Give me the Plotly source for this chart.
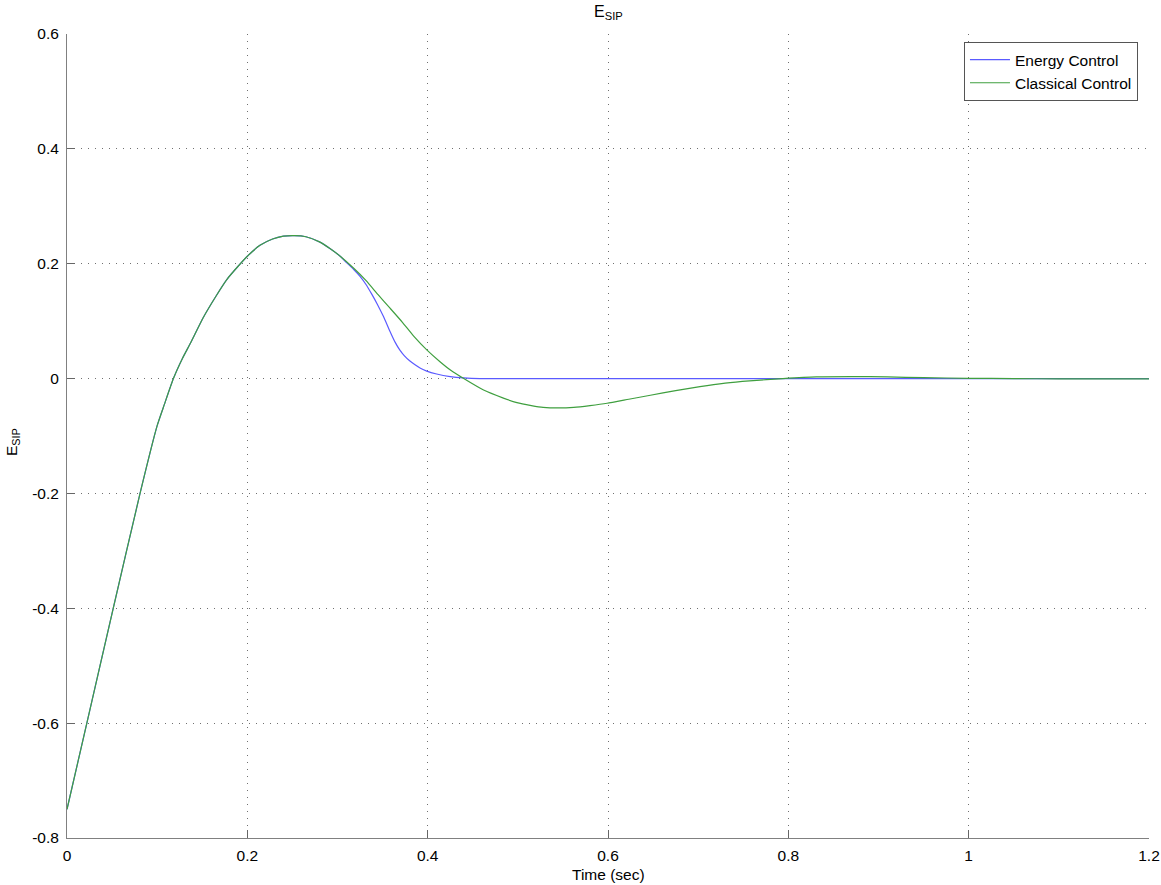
import plotly.graph_objects as go

# ---- data ----
t_classical = [0.000, 0.022, 0.051, 0.081, 0.100, 0.108, 0.118, 0.128, 0.137, 0.151,
               0.165, 0.177, 0.190, 0.200, 0.214, 0.228, 0.240, 0.252, 0.265, 0.280,
               0.292, 0.303, 0.318, 0.332, 0.345, 0.358, 0.372, 0.385, 0.399, 0.414,
               0.426, 0.440, 0.462, 0.484, 0.499, 0.515, 0.528, 0.545, 0.562, 0.580,
               0.599, 0.623, 0.647, 0.675, 0.702, 0.730, 0.757, 0.794, 0.831, 0.870,
               0.910, 0.950, 1.000, 1.050, 1.100, 1.200]
e_classical = [-0.750, -0.600, -0.402, -0.200, -0.082, -0.045, 0.000, 0.035, 0.062, 0.106,
               0.143, 0.172, 0.196, 0.213, 0.232, 0.243, 0.248, 0.249, 0.247, 0.238,
               0.226, 0.213, 0.192, 0.170, 0.146, 0.123, 0.098, 0.073, 0.050, 0.029,
               0.014, 0.000, -0.020, -0.034, -0.042, -0.047, -0.050, -0.051, -0.050, -0.047,
               -0.043, -0.036, -0.029, -0.021, -0.014, -0.008, -0.004, 0.000, 0.003, 0.0035,
               0.003, 0.0015, 0.0005, 0.000, -0.0005, -0.0005]

t_energy = [0.000, 0.022, 0.051, 0.081, 0.100, 0.108, 0.118, 0.128, 0.137, 0.151,
            0.165, 0.177, 0.190, 0.200, 0.214, 0.228, 0.240, 0.252, 0.265, 0.280,
            0.292, 0.303, 0.310, 0.318, 0.325, 0.332, 0.338, 0.344, 0.351, 0.358,
            0.364, 0.369, 0.374, 0.380, 0.386, 0.392, 0.399, 0.410, 0.425, 0.440,
            0.458, 0.600, 0.800, 1.000, 1.200]
e_energy = [-0.750, -0.600, -0.402, -0.200, -0.082, -0.045, 0.000, 0.035, 0.062, 0.106,
            0.143, 0.172, 0.196, 0.213, 0.232, 0.243, 0.248, 0.249, 0.247, 0.238,
            0.226, 0.213, 0.202, 0.190, 0.178, 0.163, 0.147, 0.130, 0.108, 0.083,
            0.063, 0.050, 0.040, 0.031, 0.024, 0.018, 0.013, 0.008, 0.0035, 0.0012,
            0.000, 0.000, 0.000, 0.000, 0.000]

x_ticks = [0, 0.2, 0.4, 0.6, 0.8, 1.0, 1.2]
x_tick_labels = ["0", "0.2", "0.4", "0.6", "0.8", "1", "1.2"]
y_ticks = [-0.8, -0.6, -0.4, -0.2, 0, 0.2, 0.4, 0.6]
y_tick_labels = ["-0.8", "-0.6", "-0.4", "-0.2", "0", "0.2", "0.4", "0.6"]

FONT = "Liberation Sans, Arial, sans-serif"
FS = 15.5

fig = go.Figure()
fig.add_trace(go.Scatter(x=t_energy, y=e_energy, mode="lines", name="Energy Control",
                         line=dict(color="#5a5aff", width=1.2, shape="spline", smoothing=0.5)))
fig.add_trace(go.Scatter(x=t_classical, y=e_classical, mode="lines", name="Classical Control",
                         line=dict(color="#3f9f3f", width=1.2, shape="spline", smoothing=0.5)))

axis_common = dict(
    showgrid=True, gridcolor="#707070", griddash="1px,6px", gridwidth=1,
    showline=True, linecolor="#808080", linewidth=1, mirror=False,
    ticks="inside", ticklen=8, tickcolor="#666666", tickwidth=1,
    zeroline=False, automargin=False,
    tickfont=dict(family=FONT, size=FS, color="#000000"),
)

fig.update_xaxes(range=[0, 1.2], tickvals=x_ticks, ticktext=x_tick_labels,
                 ticklabelstandoff=3, **axis_common)
fig.update_yaxes(range=[-0.8, 0.6], tickvals=y_ticks, ticktext=y_tick_labels,
                 ticklabelstandoff=4, **axis_common)

fig.update_layout(
    width=1161, height=885, autosize=False,
    margin=dict(l=67, r=12, t=34, b=47),
    plot_bgcolor="white", paper_bgcolor="white",
    font=dict(family=FONT, size=FS, color="#000000"),
    showlegend=True,
    legend=dict(x=0.9898, y=0.990, xanchor="right", yanchor="top",
                bgcolor="white", bordercolor="#555555", borderwidth=1,
                font=dict(family=FONT, size=FS, color="#000000"),
                tracegroupgap=0, itemwidth=40),
    annotations=[
        dict(text="E<sub>SIP</sub>", xref="paper", yref="paper", x=0.5, y=1,
             xanchor="center", yanchor="top", yshift=33, showarrow=False,
             font=dict(family=FONT, size=16)),
        dict(text="Time (sec)", xref="paper", yref="paper", x=0.5, y=0,
             xanchor="center", yanchor="top", yshift=-26, showarrow=False,
             font=dict(family=FONT, size=FS)),
        dict(text="E<sub>SIP</sub>", xref="paper", yref="paper", x=0, y=0.5,
             xanchor="center", yanchor="middle", xshift=-55, yshift=-6, textangle=-90,
             showarrow=False, font=dict(family=FONT, size=FS)),
    ],
)

fig.write_html("out.html", config={"responsive": False, "displayModeBar": False},
               post_script="document.body.style.margin='0';document.body.style.overflow='hidden';")
